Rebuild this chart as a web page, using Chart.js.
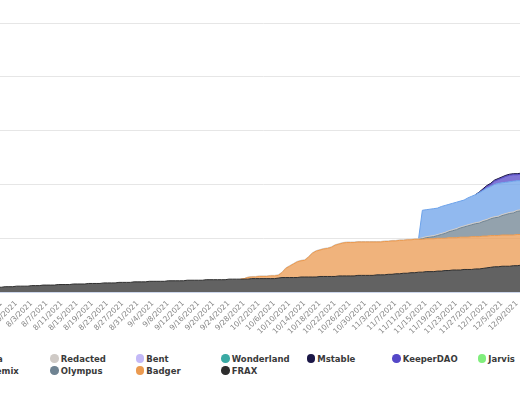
<!DOCTYPE html>
<html><head><meta charset="utf-8">
<script src="https://cdn.jsdelivr.net/npm/chart.js@4"></script>
<style>
html,body{margin:0;padding:0;background:#fff;width:520px;height:400px;overflow:hidden;position:relative;}
#wrap{position:absolute;left:-40px;top:0;width:600px;height:400px;}
.lg{position:absolute;font:bold 8.5px "DejaVu Sans",sans-serif;color:#3a3a3a;white-space:nowrap;height:10px;line-height:10px;}
.lg i{position:absolute;left:0;top:0.75px;width:8.5px;height:8.5px;border-radius:50%;}
.lg span{position:absolute;left:10.5px;top:0;}
</style></head><body>
<div id="wrap"><canvas id="c"></canvas></div>
<div id="legend"></div>
<script>
const categories = [
'7/24/2021','7/25/2021','7/26/2021','7/27/2021','7/28/2021','7/29/2021','7/30/2021','7/31/2021',
'8/1/2021','8/2/2021','8/3/2021','8/4/2021','8/5/2021','8/6/2021','8/7/2021','8/8/2021','8/9/2021','8/10/2021',
'8/11/2021','8/12/2021','8/13/2021','8/14/2021','8/15/2021','8/16/2021','8/17/2021','8/18/2021','8/19/2021','8/20/2021',
'8/21/2021','8/22/2021','8/23/2021','8/24/2021','8/25/2021','8/26/2021','8/27/2021','8/28/2021','8/29/2021','8/30/2021','8/31/2021',
'9/1/2021','9/2/2021','9/3/2021','9/4/2021','9/5/2021','9/6/2021','9/7/2021','9/8/2021','9/9/2021','9/10/2021',
'9/11/2021','9/12/2021','9/13/2021','9/14/2021','9/15/2021','9/16/2021','9/17/2021','9/18/2021','9/19/2021','9/20/2021',
'9/21/2021','9/22/2021','9/23/2021','9/24/2021','9/25/2021','9/26/2021','9/27/2021','9/28/2021','9/29/2021','9/30/2021',
'10/1/2021','10/2/2021','10/3/2021','10/4/2021','10/5/2021','10/6/2021','10/7/2021','10/8/2021','10/9/2021','10/10/2021',
'10/11/2021','10/12/2021','10/13/2021','10/14/2021','10/15/2021','10/16/2021','10/17/2021','10/18/2021','10/19/2021','10/20/2021',
'10/21/2021','10/22/2021','10/23/2021','10/24/2021','10/25/2021','10/26/2021','10/27/2021','10/28/2021','10/29/2021','10/30/2021','10/31/2021',
'11/1/2021','11/2/2021','11/3/2021','11/4/2021','11/5/2021','11/6/2021','11/7/2021','11/8/2021','11/9/2021','11/10/2021',
'11/11/2021','11/12/2021','11/13/2021','11/14/2021','11/15/2021','11/16/2021','11/17/2021','11/18/2021','11/19/2021','11/20/2021',
'11/21/2021','11/22/2021','11/23/2021','11/24/2021','11/25/2021','11/26/2021','11/27/2021','11/28/2021','11/29/2021','11/30/2021',
'12/1/2021','12/2/2021','12/3/2021','12/4/2021','12/5/2021','12/6/2021','12/7/2021','12/8/2021','12/9/2021','12/10/2021','12/11/2021'
];

const frax = [
0.09,0.09,0.10,0.10,0.10,0.11,0.11,0.11,0.11,0.12,
0.12,0.12,0.13,0.13,0.13,0.13,0.14,0.14,0.14,0.14,
0.15,0.15,0.15,0.15,0.16,0.16,0.16,0.16,0.17,0.17,
0.17,0.17,0.18,0.18,0.18,0.18,0.19,0.19,0.19,0.19,
0.20,0.20,0.20,0.20,0.20,0.21,0.21,0.21,0.21,0.21,
0.22,0.22,0.22,0.22,0.22,0.23,0.23,0.23,0.23,0.23,
0.23,0.24,0.24,0.24,0.24,0.24,0.24,0.25,0.25,0.25,
0.25,0.25,0.25,0.25,0.26,0.27,0.27,0.27,0.27,0.27,
0.28,0.28,0.28,0.28,0.28,0.29,0.29,0.29,0.29,0.29,
0.30,0.30,0.30,0.30,0.30,0.31,0.31,0.31,0.31,0.31,
0.32,0.32,0.32,0.33,0.33,0.34,0.34,0.35,0.35,0.36,
0.36,0.37,0.37,0.38,0.38,0.38,0.39,0.39,0.40,0.40,
0.41,0.41,0.41,0.42,0.42,0.42,0.43,0.43,0.44,0.45,
0.46,0.47,0.47,0.48,0.48,0.48,0.49,0.49,0.50,0.50,0.50
];

const badger = [
0,0,0,0,0,0,0,0,0,0,
0,0,0,0,0,0,0,0,0,0,
0,0,0,0,0,0,0,0,0,0,
0,0,0,0,0,0,0,0,0,0,
0,0,0,0,0,0,0,0,0,0,
0,0,0,0,0,0,0,0,0,0,
0,0,0,0,0,0.01,0.03,0.03,0.03,0.04,
0.04,0.04,0.05,0.05,0.05,0.09,0.17,0.21,0.25,0.29,
0.30,0.31,0.37,0.44,0.48,0.49,0.51,0.52,0.54,0.58,
0.59,0.61,0.62,0.62,0.62,0.62,0.62,0.62,0.62,0.62,
0.61,0.61,0.62,0.61,0.62,0.61,0.62,0.61,0.62,0.61,
0.62,0.61,0.61,0.61,0.61,0.61,0.61,0.61,0.60,0.61,
0.60,0.60,0.61,0.60,0.60,0.61,0.60,0.60,0.60,0.59,
0.59,0.58,0.58,0.58,0.58,0.58,0.57,0.58,0.57,0.57,0.57
];

const olympus = [
0,0,0,0,0,0,0,0,0,0,
0,0,0,0,0,0,0,0,0,0,
0,0,0,0,0,0,0,0,0,0,
0,0,0,0,0,0,0,0,0,0,
0,0,0,0,0,0,0,0,0,0,
0,0,0,0,0,0,0,0,0,0,
0,0,0,0,0,0,0,0,0,0,
0,0,0,0,0,0,0,0,0,0,
0,0,0,0,0,0,0,0,0,0,
0,0,0,0,0,0,0,0,0,0,
0,0,0,0,0,0,0,0,0,0,
0,0,0.01,0.02,0.03,0.04,0.05,0.07,0.09,0.11,
0.13,0.15,0.17,0.19,0.21,0.22,0.24,0.25,0.27,0.29,
0.31,0.33,0.34,0.36,0.38,0.40,0.41,0.43,0.44,0.45,0.46
];

const redacted = [
0,0,0,0,0,0,0,0,0,0,
0,0,0,0,0,0,0,0,0,0,
0,0,0,0,0,0,0,0,0,0,
0,0,0,0,0,0,0,0,0,0,
0,0,0,0,0,0,0,0,0,0,
0,0,0,0,0,0,0,0,0,0,
0,0,0,0,0,0,0.01,0.01,0.01,0.01,
0.01,0.01,0.01,0.01,0.01,0.01,0.01,0.01,0.01,0.01,
0.01,0.01,0.01,0.01,0.01,0.01,0.01,0.01,0.01,0.01,
0.01,0.01,0.01,0.01,0.01,0.01,0.01,0.01,0.01,0.01,
0.01,0.01,0.01,0.01,0.01,0.01,0.01,0.01,0.01,0.01,
0.01,0.01,0.02,0.02,0.02,0.02,0.02,0.02,0.02,0.02,
0.02,0.02,0.02,0.02,0.02,0.02,0.02,0.02,0.02,0.02,
0.02,0.02,0.02,0.02,0.02,0.02,0.02,0.02,0.02,0.02,0.02
];

const alchemix = [
0,0,0,0,0,0,0,0,0,0,
0,0,0,0,0,0,0,0,0,0,
0,0,0,0,0,0,0,0,0,0,
0,0,0,0,0,0,0,0,0,0,
0,0,0,0,0,0,0,0,0,0,
0,0,0,0,0,0,0,0,0,0,
0,0,0,0,0,0,0,0,0,0,
0,0,0,0,0,0,0,0,0,0,
0,0,0,0,0,0,0,0,0,0,
0,0,0,0,0,0,0,0,0,0,
0,0,0,0,0,0,0,0,0,0,
0,0,0.51,0.50,0.50,0.50,0.49,0.50,0.50,0.49,
0.49,0.49,0.48,0.48,0.50,0.51,0.52,0.55,0.56,0.58,
0.58,0.60,0.61,0.59,0.58,0.57,0.57,0.55,0.54,0.54,0.54
];

const keeperdao = [
0,0,0,0,0,0,0,0,0,0,
0,0,0,0,0,0,0,0,0,0,
0,0,0,0,0,0,0,0,0,0,
0,0,0,0,0,0,0,0,0,0,
0,0,0,0,0,0,0,0,0,0,
0,0,0,0,0,0,0,0,0,0,
0,0,0,0,0,0,0,0,0,0,
0,0,0,0,0,0,0,0,0,0,
0,0,0,0,0,0,0,0,0,0,
0,0,0,0,0,0,0,0,0,0,
0,0,0,0,0,0,0,0,0,0,
0,0,0,0,0,0,0,0,0,0,
0,0,0,0,0,0,0,0,0.01,0.03,
0.04,0.06,0.07,0.09,0.11,0.12,0.12,0.11,0.12,0.12,0.11
];

const mstable = [
0,0,0,0,0,0,0,0,0,0,
0,0,0,0,0,0,0,0,0,0,
0,0,0,0,0,0,0,0,0,0,
0,0,0,0,0,0,0,0,0,0,
0,0,0,0,0,0,0,0,0,0,
0,0,0,0,0,0,0,0,0,0,
0,0,0,0,0,0,0,0,0,0,
0,0,0,0,0,0,0,0,0,0,
0,0,0,0,0,0,0,0,0,0,
0,0,0,0,0,0,0,0,0,0,
0,0,0,0,0,0,0,0,0,0,
0,0,0,0,0,0,0,0,0,0,
0,0,0,0,0,0,0,0.01,0.02,0.02,
0.02,0.02,0.02,0.02,0.02,0.02,0.02,0.02,0.02,0.02,0.02
];

// Series with no visible area in the picture
const jarvis = [];
const wonderland = [];
const bent = [];
const alpha = [];

// Stack order, bottom to top
const seriesNames  = ['FRAX','Badger','Olympus','Redacted','Alchemix','KeeperDAO','Mstable','Jarvis','Wonderland','Bent','Alpha'];
const seriesValues = [frax, badger, olympus, redacted, alchemix, keeperdao, mstable, jarvis, wonderland, bent, alpha];
const seriesColors = ['#2e2e2e','#eb9a50','#6f8392','#cfcac6','#6ca2ea','#5548c8','#1b1747','#80ee7c','#3aaaa4','#c3b9f7','#f15c80'];
const legendOrder  = ['Alpha','Redacted','Bent','Wonderland','Mstable','KeeperDAO','Jarvis','Alchemix','Olympus','Badger','FRAX'];

// layout (page pixels)
const PLOT = {left:-2, right:530, top:23, bottom:292};
const LEGEND = {x0:-31, colW:85.5, perRow:7, y0:358.5, rowH:12};

function rgba(hex, a){
  const n = parseInt(hex.slice(1),16);
  return 'rgba('+((n>>16)&255)+','+((n>>8)&255)+','+(n&255)+','+a+')';
}

const datasets = seriesNames.map((name,i)=>{
  const vals = seriesValues[i];
  return {
    label:name, data:vals,
    borderColor:seriesColors[i], backgroundColor:rgba(seriesColors[i],0.75),
    borderWidth:1, pointRadius:0, pointHoverRadius:0, tension:0,
    fill: i===0 ? 'origin' : '-1',
    segment:{ borderColor: c => (vals[c.p0DataIndex]===0 && vals[c.p1DataIndex]===0) ? 'rgba(0,0,0,0)' : undefined }
  };
});

const chart = new Chart(document.getElementById('c'), {
  type:'line',
  data:{ labels:categories, datasets },
  options:{
    responsive:true, maintainAspectRatio:false, animation:false,
    layout:{padding:{top:23,left:0,right:0,bottom:0}},
    plugins:{legend:{display:false}, tooltip:{enabled:false}},
    events:[],
    scales:{
      x:{
        grid:{display:false, drawTicks:false},
        border:{display:true, color:'#ccd6eb'},
        ticks:{autoSkip:false, minRotation:45, maxRotation:45, color:'#858585', padding:7, labelOffset:-4,
          font:{family:'DejaVu Sans', size:7.5},
          callback(v,i){ return i%4===2 ? this.getLabelForValue(v) : null; }}
      },
      y:{
        stacked:true, min:0, max:5,
        ticks:{display:false, stepSize:1},
        grid:{color:'#e6e6e6', drawTicks:false},
        border:{display:false},
        afterFit(s){ s.width = 0; }
      }
    }
  }
});

(function fit(){
  const wrap = document.getElementById('wrap');
  const ca = chart.chartArea;
  const w = Math.round(chart.width + (PLOT.right-PLOT.left) - (ca.right-ca.left));
  const h = Math.round(chart.height + (PLOT.bottom-PLOT.top) - (ca.bottom-ca.top));
  wrap.style.width = w+'px'; wrap.style.height = h+'px';
  chart.resize(w,h);
  const cb = chart.chartArea;
  wrap.style.left = (PLOT.left - cb.left)+'px';
  wrap.style.top = (PLOT.top - cb.top)+'px';
})();

// legend
const lg = document.getElementById('legend');
legendOrder.forEach((name,k)=>{
  const i = seriesNames.indexOf(name);
  const col = k % LEGEND.perRow, row = Math.floor(k / LEGEND.perRow);
  const d = document.createElement('div');
  d.className='lg';
  d.style.left = (LEGEND.x0 + col*LEGEND.colW - 4.25)+'px';
  d.style.top = (LEGEND.y0 + row*LEGEND.rowH - 5)+'px';
  const dot = document.createElement('i'); dot.style.background = seriesColors[i];
  const t = document.createElement('span'); t.textContent = name;
  d.appendChild(dot); d.appendChild(t); lg.appendChild(d);
});
</script>
</body></html>
